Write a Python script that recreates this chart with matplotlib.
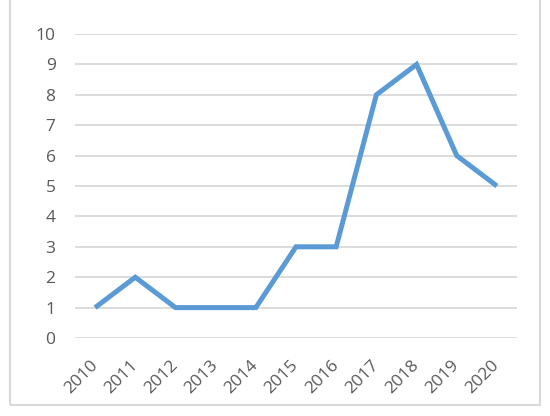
import matplotlib.pyplot as plt
from matplotlib.patches import Rectangle

years = ["2010", "2011", "2012", "2013", "2014", "2015",
         "2016", "2017", "2018", "2019", "2020"]
counts = [1, 2, 1, 1, 1, 3, 3, 8, 9, 6, 5]
y_ticks = list(range(0, 11))

fig = plt.figure(figsize=(5.5, 4.16), dpi=100)
plt.rcParams['font.family'] = ['Open Sans', 'DejaVu Sans']

# chart border (top edge runs off the picture)
fig.patches.append(Rectangle((10 / 550, 11 / 416), 530 / 550, 420 / 416,
                             transform=fig.transFigure, fill=False,
                             edgecolor='#d9d9d9', linewidth=1.5))

ax = fig.add_axes([75 / 550, 1 - 338 / 416, 442 / 550, 304 / 416])
x = list(range(len(years)))
ax.plot(x, counts, color='#5b9bd5', linewidth=3.6, solid_joinstyle='miter',
        solid_capstyle='butt', zorder=3)

ax.set_xlim(-0.5, len(years) - 0.5)
ax.set_ylim(0, 10)
ax.set_yticks(y_ticks)
ax.set_xticks(x)
ax.set_xticklabels(years, rotation=45, ha='right', va='center',
                   rotation_mode='anchor', fontsize=12.5)
ax.grid(axis='y', color='#d9d9d9', linewidth=1.3)
ax.set_axisbelow(True)
for s in ax.spines.values():
    s.set_visible(False)
ax.tick_params(length=0, colors='#595959')
ax.tick_params(axis='y', pad=14, labelsize=12.5)
ax.tick_params(axis='x', pad=18)

fig.savefig('out.png', dpi=100)
